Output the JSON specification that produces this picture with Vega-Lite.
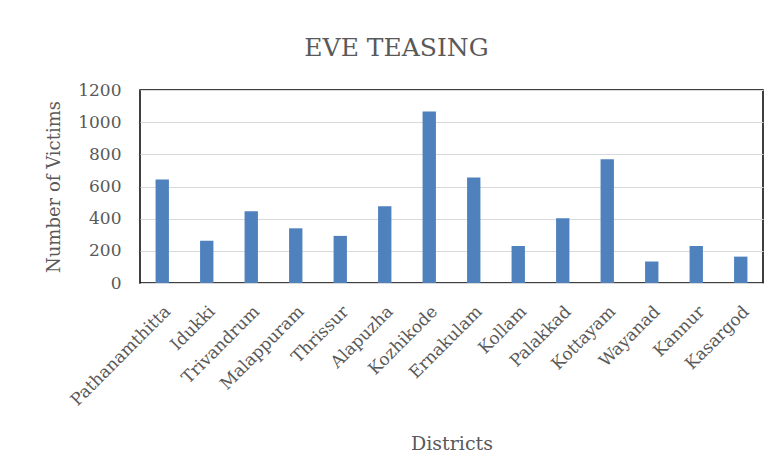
{
  "$schema": "https://vega.github.io/schema/vega-lite/v6.json",
  "autosize": "none",
  "width": 623,
  "height": 193,
  "padding": {"left": 140, "top": 90, "right": 14, "bottom": 190},
  "background": "white",
  "title": {
    "text": "EVE TEASING",
    "font": "DejaVu Serif",
    "fontSize": 25,
    "fontWeight": "normal",
    "color": "#595959",
    "anchor": "middle",
    "dx": -55,
    "offset": 20
  },
  "data": {
    "values": [
      {"district": "Pathanamthitta", "victims": 644},
      {"district": "Idukki", "victims": 262},
      {"district": "Trivandrum", "victims": 446},
      {"district": "Malappuram", "victims": 340},
      {"district": "Thrissur", "victims": 293},
      {"district": "Alapuzha", "victims": 477},
      {"district": "Kozhikode", "victims": 1067},
      {"district": "Ernakulam", "victims": 656},
      {"district": "Kollam", "victims": 230},
      {"district": "Palakkad", "victims": 403},
      {"district": "Kottayam", "victims": 770},
      {"district": "Wayanad", "victims": 133},
      {"district": "Kannur", "victims": 230},
      {"district": "Kasargod", "victims": 164}
    ]
  },
  "mark": {"type": "bar", "color": "#4F81BD"},
  "encoding": {
    "x": {
      "field": "district",
      "type": "nominal",
      "sort": null,
      "scale": {"paddingInner": 0.7, "paddingOuter": 0.35},
      "axis": {
        "title": "Districts",
        "titleFont": "DejaVu Serif",
        "titleFontSize": 19,
        "titleFontWeight": "normal",
        "titleColor": "#595959",
        "titlePadding": 26,
        "labelFont": "DejaVu Serif",
        "labelFontSize": 17,
        "labelColor": "#595959",
        "labelAngle": -45,
        "labelPadding": 20,
        "ticks": false,
        "domain": false
      }
    },
    "y": {
      "field": "victims",
      "type": "quantitative",
      "scale": {"domain": [0, 1200]},
      "axis": {
        "title": "Number of Victims",
        "titleFont": "DejaVu Serif",
        "titleFontSize": 18,
        "titleFontWeight": "normal",
        "titleColor": "#595959",
        "titlePadding": 14,
        "labelFont": "DejaVu Serif",
        "labelFontSize": 17,
        "labelColor": "#595959",
        "labelPadding": 19,
        "format": "d",
        "values": [0, 200, 400, 600, 800, 1000, 1200],
        "ticks": false,
        "domain": false,
        "gridColor": "#D9D9D9",
        "gridWidth": 1
      }
    }
  },
  "config": {
    "view": {"stroke": "#000000", "strokeWidth": 1.5}
  }
}
